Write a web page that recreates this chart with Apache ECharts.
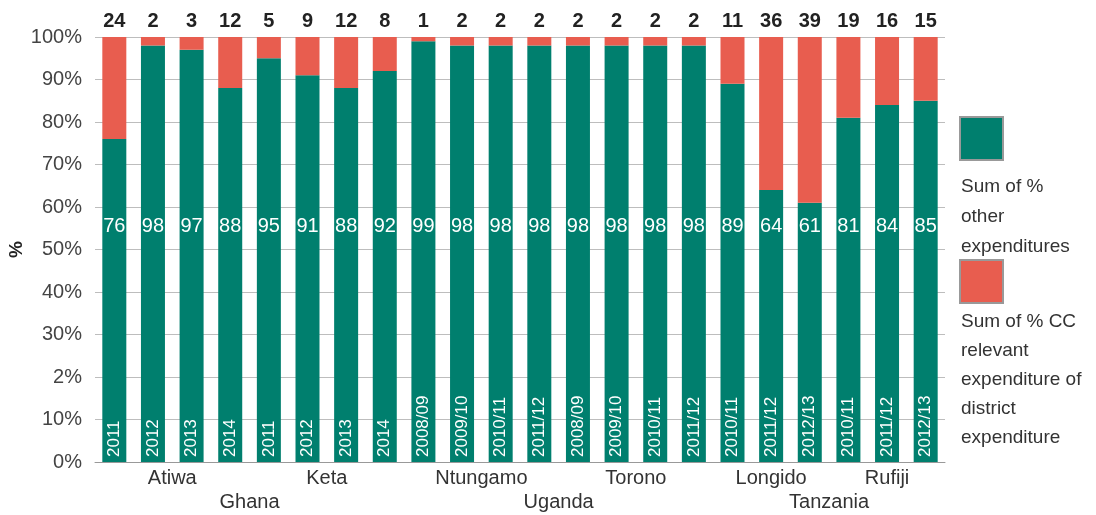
<!DOCTYPE html>
<html>
<head>
<meta charset="utf-8">
<script src="https://cdn.jsdelivr.net/npm/echarts@6/dist/echarts.min.js"></script>
<style>
  html, body { margin: 0; padding: 0; background: #fff; }
  #chart { width: 1096px; height: 515px; }
</style>
</head>
<body>
<div id="chart"></div>
<script>
// Fiscal years, one per bar
const years = ['2011','2012','2013','2014','2011','2012','2013','2014',
  '2008/09','2009/10','2010/11','2011/12','2008/09','2009/10','2010/11','2011/12',
  '2010/11','2011/12','2012/13','2010/11','2011/12','2012/13'];
// Share of other expenditures (%)
const otherExp = [76,98,97,88,95,91,88,92,99,98,98,98,98,98,98,98,89,64,61,81,84,85];
// Share of climate-change relevant expenditure (%)
const ccExp = [24,2,3,12,5,9,12,8,1,2,2,2,2,2,2,2,11,36,39,19,16,15];
// Districts and the number of years shown for each
const districts = ['Atiwa','Keta','Ntungamo','Torono','Longido','Rufiji'];
const districtYears = [4,4,4,4,3,3];
// Countries and the number of districts in each
const countries = ['Ghana','Uganda','Tanzania'];
const countryDistricts = [2,2,2];
// Value-axis tick labels
const yTickLabels = ['0%','10%','2%','30%','40%','50%','60%','70%','80%','90%','100%'];

const seriesNames = ['Sum of % other expenditures', 'Sum of % CC relevant expenditure of district expenditure'];
const legendText = {};
legendText[seriesNames[0]] = '{g|}\n{t|Sum of %}\n{t|other}\n{t|expenditures}';
legendText[seriesNames[1]] = '{r|}\n{u|Sum of % CC}\n{u|relevant}\n{u|expenditure of}\n{u|district}\n{u|expenditure}';

const FONT = '"Liberation Sans Narrow", "Liberation Sans", Arial, sans-serif';
const GREEN = '#007f6e';
const RED = '#e85d4f';

// Half-step slots: bar i centre is slot 2i+1, boundary j is slot 2j
const nSlots = years.length * 2 + 1;
const districtSlots = new Array(nSlots).fill('');
const countrySlots = new Array(nSlots).fill('');
let start = 0;
const districtStart = [];
districts.forEach((d, i) => {
  districtStart.push(start);
  districtSlots[2 * start + districtYears[i]] = d;
  start += districtYears[i];
});
districtStart.push(start);
let dIdx = 0;
countries.forEach((c, i) => {
  const s = districtStart[dIdx];
  const e = districtStart[dIdx + countryDistricts[i]];
  countrySlots[s + e] = c;
  dIdx += countryDistricts[i];
});

const chart = echarts.init(document.getElementById('chart'), null, { renderer: 'canvas' });
chart.setOption({
  animation: false,
  textStyle: { fontFamily: FONT },
  grid: { left: 95, right: 151, top: 37, bottom: 53, containLabel: false, outerBoundsMode: 'none' },
  legend: {
    orient: 'vertical',
    left: 956,
    top: 116,
    padding: 0,
    itemWidth: 0,
    itemHeight: 0,
    itemGap: 3,
    selectedMode: false,
    data: seriesNames,
    formatter: name => legendText[name],
    textStyle: {
      fontFamily: FONT,
      fontSize: 19,
      color: '#333',
      rich: {
        g: { width: 41, height: 41, backgroundColor: GREEN, borderColor: '#999', borderWidth: 2, lineHeight: 66 },
        r: { width: 41, height: 41, backgroundColor: RED, borderColor: '#999', borderWidth: 2, lineHeight: 51.5 },
        t: { fontFamily: FONT, fontSize: 19, color: '#333', lineHeight: 30 },
        u: { fontFamily: FONT, fontSize: 19, color: '#333', lineHeight: 29 }
      }
    }
  },
  xAxis: [
    {
      type: 'category',
      data: years,
      z: 10,
      axisLine: { lineStyle: { color: '#999', width: 1 } },
      axisTick: { show: false },
      axisLabel: {
        inside: true,
        rotate: 90,
        interval: 0,
        color: '#fff',
        fontSize: 17,
        margin: 5,
        fontFamily: FONT
      }
    },
    {
      type: 'category',
      data: districtSlots,
      boundaryGap: false,
      position: 'bottom',
      axisLine: { show: false },
      axisTick: { show: false },
      axisLabel: { interval: 0, color: '#333', fontSize: 20, margin: 6, fontFamily: FONT }
    },
    {
      type: 'category',
      data: countrySlots,
      boundaryGap: false,
      position: 'bottom',
      offset: 24,
      axisLine: { show: false },
      axisTick: { show: false },
      axisLabel: { interval: 0, color: '#333', fontSize: 20, margin: 6, fontFamily: FONT }
    }
  ],
  yAxis: {
    type: 'value',
    min: 0,
    max: 100,
    interval: 10,
    name: '%',
    nameLocation: 'middle',
    nameGap: 69,
    nameMoveOverlap: false,
    nameRotate: 90,
    nameTextStyle: { fontSize: 19, fontWeight: 'bold', color: '#222', fontFamily: FONT },
    axisLine: { show: false },
    axisTick: { show: false },
    splitLine: { lineStyle: { color: '#bdbdbd', width: 1 } },
    axisLabel: {
      color: '#444',
      fontSize: 20,
      margin: 13,
      fontFamily: FONT,
      formatter: v => yTickLabels[Math.round(v / 10)]
    }
  },
  series: [
    {
      name: seriesNames[0],
      type: 'bar',
      stack: 'total',
      barWidth: 24,
      data: otherExp,
      itemStyle: { color: GREEN },
      label: {
        show: true,
        position: 'insideBottom',
        distance: 226,
        color: '#fff',
        fontSize: 20,
        fontFamily: FONT
      }
    },
    {
      name: seriesNames[1],
      type: 'bar',
      stack: 'total',
      barWidth: 24,
      data: ccExp,
      itemStyle: { color: RED },
      label: {
        show: true,
        position: 'top',
        distance: 6,
        color: '#222',
        fontSize: 20,
        fontWeight: 'bold',
        fontFamily: FONT
      }
    }
  ]
});
</script>
</body>
</html>
